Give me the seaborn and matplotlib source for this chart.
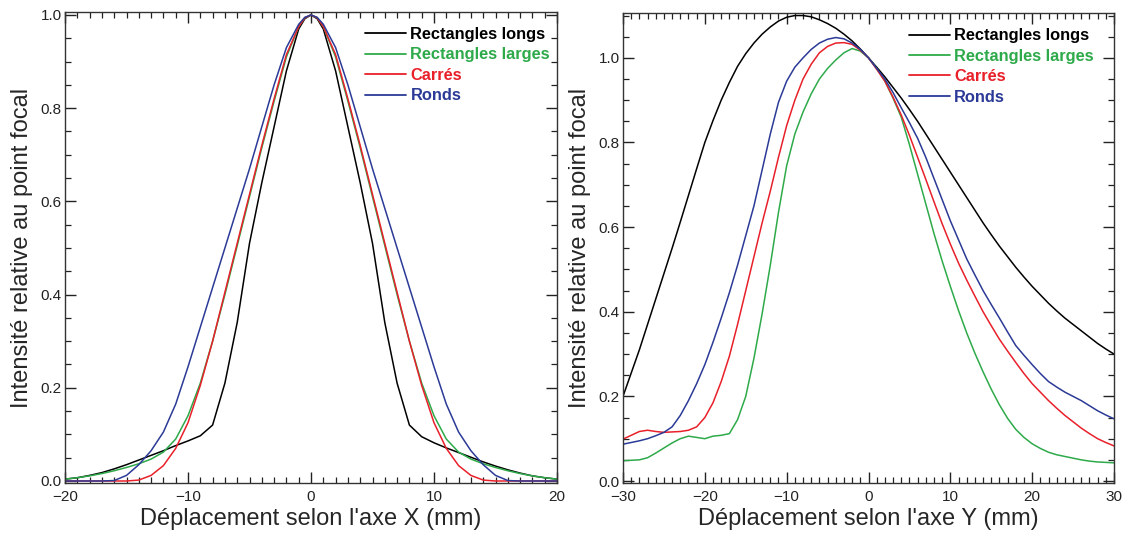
import numpy as np
import pandas as pd
import matplotlib
matplotlib.use("Agg")
import matplotlib.pyplot as plt
import seaborn as sns
from matplotlib.ticker import MultipleLocator

# ---------------- data ----------------
series_names = ["Rectangles longs", "Rectangles larges", "Carrés", "Ronds"]
series_colors = ["#000000", "#2eaa4a", "#e8202a", "#2b3a96"]

# Left panel: displacement along X (mm)
x_pos = list(range(-20, 0)) + [-0.5, 0, 0.5] + list(range(1, 21))
x_rect_longs = [0.004, 0.007, 0.012, 0.018, 0.026, 0.035, 0.045, 0.055, 0.065, 0.076,
                0.086, 0.097, 0.12, 0.21, 0.34, 0.51, 0.64, 0.76, 0.88, 0.97,
                0.992, 1.0, 0.992,
                0.97, 0.88, 0.76, 0.64, 0.51, 0.34, 0.21, 0.12, 0.095, 0.082,
                0.071, 0.061, 0.051, 0.041, 0.032, 0.024, 0.017, 0.011, 0.007, 0.004]
x_rect_larges = [0.004, 0.007, 0.011, 0.016, 0.022, 0.029, 0.037, 0.047, 0.062, 0.09,
                 0.14, 0.21, 0.30, 0.40, 0.505, 0.61, 0.715, 0.815, 0.91, 0.975,
                 0.994, 1.0, 0.994,
                 0.975, 0.91, 0.815, 0.715, 0.61, 0.505, 0.40, 0.30, 0.21, 0.14,
                 0.09, 0.062, 0.047, 0.037, 0.029, 0.022, 0.016, 0.011, 0.007, 0.004]
x_carres = [0.0, 0.0, 0.0, 0.0, 0.0, 0.0, 0.002, 0.012, 0.033, 0.07,
            0.125, 0.205, 0.30, 0.405, 0.51, 0.615, 0.72, 0.82, 0.915, 0.975,
            0.994, 1.0, 0.994,
            0.975, 0.915, 0.82, 0.72, 0.615, 0.51, 0.405, 0.30, 0.205, 0.125,
            0.07, 0.033, 0.012, 0.002, 0.0, 0.0, 0.0, 0.0, 0.0, 0.0]
x_ronds = [0.0, 0.0, 0.0, 0.0, 0.001, 0.012, 0.035, 0.065, 0.105, 0.165,
           0.245, 0.33, 0.415, 0.50, 0.585, 0.67, 0.76, 0.85, 0.93, 0.98,
           0.995, 1.0, 0.995,
           0.98, 0.93, 0.85, 0.76, 0.67, 0.585, 0.50, 0.415, 0.33, 0.245,
           0.165, 0.105, 0.065, 0.035, 0.012, 0.001, 0.0, 0.0, 0.0, 0.0]

# Right panel: displacement along Y (mm)
y_pos = list(range(-30, 31))
y_rect_longs = [0.20, 0.255, 0.31, 0.37, 0.43, 0.49, 0.55, 0.612, 0.675, 0.738,
                0.80, 0.852, 0.90, 0.942, 0.98, 1.01, 1.035, 1.056, 1.073, 1.087,
                1.096, 1.10, 1.10, 1.097, 1.09, 1.081, 1.07, 1.056, 1.04, 1.021,
                1.0,
                0.978, 0.955, 0.93, 0.905, 0.878, 0.85, 0.82, 0.79, 0.76, 0.73,
                0.70, 0.67, 0.64, 0.61, 0.582, 0.555, 0.53, 0.505, 0.482, 0.46,
                0.44, 0.42, 0.402, 0.385, 0.37, 0.355, 0.34, 0.325, 0.312, 0.30]
y_rect_larges = [0.048, 0.049, 0.05, 0.055, 0.066, 0.078, 0.09, 0.10, 0.106, 0.103,
                 0.10, 0.106, 0.108, 0.112, 0.145, 0.20, 0.29, 0.395, 0.51, 0.635,
                 0.745, 0.82, 0.872, 0.915, 0.95, 0.975, 0.995, 1.012, 1.022, 1.016,
                 1.0,
                 0.975, 0.945, 0.905, 0.86, 0.795, 0.725, 0.655, 0.585, 0.52, 0.46,
                 0.403, 0.35, 0.302, 0.258, 0.217, 0.18, 0.148, 0.122, 0.103, 0.088,
                 0.077, 0.068, 0.062, 0.058, 0.054, 0.05, 0.047, 0.045, 0.044, 0.043]
y_carres = [0.099, 0.108, 0.117, 0.12, 0.117, 0.115, 0.116, 0.117, 0.12, 0.128,
            0.15, 0.185, 0.235, 0.295, 0.37, 0.45, 0.53, 0.61, 0.685, 0.765,
            0.84, 0.90, 0.95, 0.985, 1.012, 1.027, 1.035, 1.036, 1.032, 1.018,
            1.0,
            0.973, 0.945, 0.907, 0.865, 0.817, 0.765, 0.713, 0.66, 0.608, 0.56,
            0.515, 0.475, 0.437, 0.40, 0.367, 0.335, 0.307, 0.28, 0.254, 0.23,
            0.21, 0.19, 0.172, 0.155, 0.14, 0.125, 0.112, 0.10, 0.091, 0.083]
y_ronds = [0.087, 0.091, 0.095, 0.10, 0.107, 0.115, 0.128, 0.155, 0.19, 0.23,
           0.275, 0.328, 0.385, 0.445, 0.51, 0.58, 0.65, 0.735, 0.82, 0.895,
           0.945, 0.978, 1.0, 1.02, 1.035, 1.044, 1.048, 1.045, 1.035, 1.02,
           1.0,
           0.975, 0.95, 0.918, 0.882, 0.847, 0.81, 0.765, 0.715, 0.665, 0.615,
           0.57, 0.525, 0.487, 0.45, 0.417, 0.385, 0.352, 0.32, 0.297, 0.275,
           0.254, 0.235, 0.222, 0.21, 0.20, 0.19, 0.178, 0.166, 0.156, 0.147]

x_ticks = [-20, -10, 0, 10, 20]
y_ticks_x = [-30, -20, -10, 0, 10, 20, 30]
val_ticks = [0.0, 0.2, 0.4, 0.6, 0.8, 1.0]

xlabel_left = "Déplacement selon l'axe X (mm)"
xlabel_right = "Déplacement selon l'axe Y (mm)"
ylabel = "Intensité relative au point focal"

# ---------------- tables ----------------
def long_table(pos, cols):
    frames = []
    for name, vals in zip(series_names, cols):
        frames.append(pd.DataFrame({"pos": pos, "val": vals, "série": name}))
    return pd.concat(frames, ignore_index=True)

df_x = long_table(x_pos, [x_rect_longs, x_rect_larges, x_carres, x_ronds])
df_y = long_table(y_pos, [y_rect_longs, y_rect_larges, y_carres, y_ronds])

# ---------------- style ----------------
sns.set_style("ticks")
plt.rcParams["font.family"] = ["Liberation Sans", "DejaVu Sans"]
plt.rcParams["axes.linewidth"] = 1.0

fig = plt.figure(figsize=(11.25, 5.39), dpi=100)
ax1 = fig.add_axes([65 / 1125, 1 - 483 / 539, 492 / 1125, 471 / 539])
ax2 = fig.add_axes([623 / 1125, 1 - 483 / 539, 491 / 1125, 470 / 539])

palette = dict(zip(series_names, series_colors))


def draw(ax, df, xlim, ylim, xt, xlabel, leg_anchor, ylab_x):
    sns.lineplot(data=df, x="pos", y="val", hue="série", palette=palette,
                 hue_order=series_names, linewidth=1.1, ax=ax, sort=True,
                 estimator=None)
    ax.set_xlim(*xlim)
    ax.set_ylim(*ylim)
    ax.set_xticks(xt)
    ax.set_yticks(val_ticks)
    ax.set_yticklabels([f"{v:.1f}" for v in val_ticks])
    ax.xaxis.set_minor_locator(MultipleLocator(1))
    ax.yaxis.set_minor_locator(MultipleLocator(0.05))
    ax.tick_params(which="both", direction="in", top=True, right=True,
                   colors="#222222", labelsize=11)
    ax.tick_params(which="major", length=8, width=1.0)
    ax.tick_params(axis="x", which="major", pad=5)
    ax.tick_params(axis="y", which="major", pad=2.5)
    ax.tick_params(which="minor", length=4, width=0.9)
    for s in ax.spines.values():
        s.set_color("#333333")
    ax.set_xlabel(xlabel, fontsize=17, labelpad=3)
    ax.set_ylabel(ylabel, fontsize=17)
    ax.yaxis.set_label_coords(ylab_x, 0.5)
    leg = ax.legend(loc="upper right", bbox_to_anchor=leg_anchor, frameon=False,
                    prop={"weight": "bold", "size": 11.8}, labelcolor="linecolor",
                    handlelength=2.5, handletextpad=0.25, labelspacing=0.33,
                    borderaxespad=0.0, borderpad=0.0)
    for line in leg.get_lines():
        line.set_linewidth(1.3)


draw(ax1, df_x, (-20, 20), (-0.0043, 1.0064), x_ticks, xlabel_left,
     (0.986, 0.968), -0.066)
draw(ax2, df_y, (-30, 30), (-0.0047, 1.106), y_ticks_x, xlabel_right,
     (0.959, 0.9675), -0.066)

fig.savefig("out.png", dpi=100, facecolor="white")
